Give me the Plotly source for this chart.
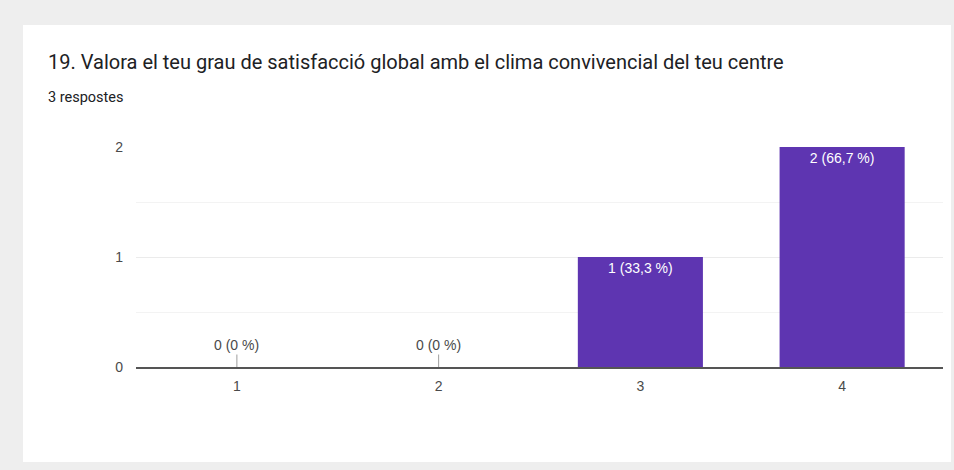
import plotly.graph_objects as go

# Data
categories = ["1", "2", "3", "4"]
counts = [0, 0, 1, 2]
title_text = "19. Valora el teu grau de satisfacció global amb el clima convivencial del teu centre"
subtitle_text = "3 respostes"

total = sum(counts)
labels = []
for c in counts:
    pct = c / total * 100
    s = ("%.1f" % pct).rstrip("0").rstrip(".").replace(".", ",")
    labels.append("%d (%s %%)" % (c, s))

W, H = 954, 470
L, R, T, B = 136, 11, 147, 103
pw, ph = W - L - R, H - T - B

def px(x):
    return (x - L) / pw

def py(y):
    return (H - B - y) / ph

lab_font = dict(family="Liberation Sans, Arial", size=14, color="#4a4a4a")

fig = go.Figure()

fig.add_trace(go.Bar(
    x=categories,
    y=counts,
    marker=dict(color="#5e35b1", line=dict(width=0)),
    text=[lab if c > 0 else "" for lab, c in zip(labels, counts)],
    textposition="inside",
    insidetextanchor="end",
    textfont=dict(family="Liberation Sans, Arial", size=14, color="white"),
    showlegend=False,
    hoverinfo="skip",
))

# zero-value labels with the little stub (category index on the x axis)
for i, (c, lab) in enumerate(zip(counts, labels)):
    if c == 0:
        fig.add_annotation(
            x=i, y=c, xref="x", yref="y",
            text=lab, showarrow=True, arrowhead=0, arrowwidth=1,
            arrowcolor="#9e9e9e", ax=0, ay=-22, standoff=0,
            font=lab_font,
        )

# white card
fig.add_shape(type="rect", xref="paper", yref="paper",
              x0=px(23), x1=px(951), y0=py(462), y1=py(25),
              fillcolor="white", line=dict(width=0), layer="below")

fig.add_annotation(xref="paper", yref="paper", x=px(46), y=py(62),
                   xanchor="left", yanchor="middle", showarrow=False,
                   text=title_text,
                   font=dict(family="Roboto", size=20, color="#202124"))
fig.add_annotation(xref="paper", yref="paper", x=px(46), y=py(97),
                   xanchor="left", yanchor="middle", showarrow=False,
                   text=subtitle_text,
                   font=dict(family="Roboto", size=14.5, color="#202124"))

fig.update_layout(
    width=W, height=H,
    margin=dict(l=L, r=R, t=T, b=B, pad=0),
    paper_bgcolor="#eeeeee",
    plot_bgcolor="white",
    bargap=0.38,
    xaxis=dict(
        type="category",
        showgrid=False,
        showline=True, linecolor="#555555", linewidth=2,
        ticks="", ticklabelstandoff=5,
        tickfont=lab_font,
        fixedrange=True,
    ),
    yaxis=dict(
        range=[0, 2],
        tickvals=[0, 1, 2],
        showgrid=True, gridcolor="#ebebeb", gridwidth=1,
        zeroline=False, showline=False,
        ticks="", ticklabelstandoff=12,
        tickfont=lab_font,
        minor=dict(dtick=0.5, showgrid=True, gridcolor="#f3f3f3"),
        fixedrange=True,
    ),
)

fig.write_html("out.html", config={"displayModeBar": False},
               post_script="document.body.style.margin='0';")
